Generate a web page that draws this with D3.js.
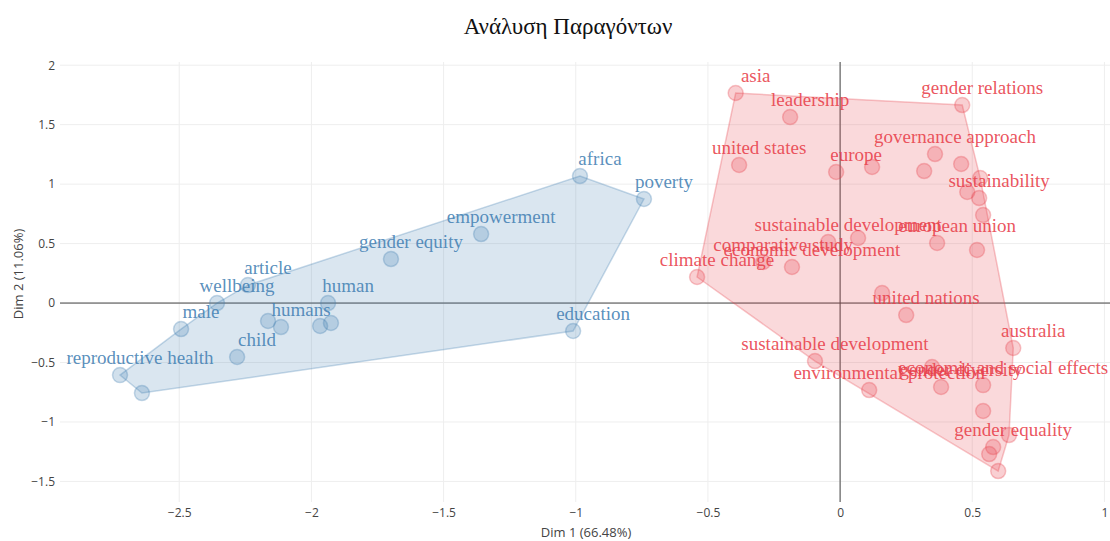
<!DOCTYPE html>
<html>
<head>
<meta charset="utf-8">
<script src="https://cdn.jsdelivr.net/npm/d3@7"></script>
<style>
    body { margin: 0; background: #fff; }
</style>
</head>
<body>
<div id="chart"></div>
<script>

// cluster 1 (blue)
const blueX = [-0.984, -0.742, -1.358, -1.699, -1.010, -2.240, -2.357, -1.937, -2.493, -2.115, -2.164, -1.967, -1.926, -2.281, -2.724, -2.641]
const blueY = [1.068, 0.875, 0.580, 0.370, -0.235, 0.151, 0.0, 0.0, -0.219, -0.202, -0.151, -0.193, -0.168, -0.454, -0.606, -0.757]
const blueLabels = ["africa", "poverty", "empowerment", "gender equity", "education", "article", "wellbeing", "human", "male", "humans", "", "", "", "child", "reproductive health", ""]

// cluster 2 (red)
const redX = [-0.395, -0.189, 0.462, -0.382, -0.015, 0.121, 0.359, 0.318, 0.458, 0.530, 0.481, 0.526, 0.541, -0.045, 0.068, 0.367, 0.518, -0.291, -0.182, -0.541, 0.159, 0.250, 0.655, -0.095, 0.348, 0.110, 0.382, 0.541, 0.541, 0.639, 0.579, 0.564, 0.598]
const redY = [1.766, 1.564, 1.665, 1.161, 1.102, 1.144, 1.253, 1.110, 1.169, 1.051, 0.934, 0.883, 0.740, 0.513, 0.547, 0.505, 0.446, 0.345, 0.303, 0.219, 0.084, -0.101, -0.378, -0.488, -0.538, -0.732, -0.706, -0.690, -0.908, -1.110, -1.211, -1.270, -1.413]
const redLabels = ["asia", "leadership", "gender relations", "united states", "europe", "", "governance approach", "", "", "", "", "sustainability", "",
    "sustainable development", "", "european union", "", "comparative study", "economic development", "climate change", "", "united nations",
    "australia", "sustainable development", "", "environmental protection", "gender diversity", "economic and social effects", "", "", "gender equality", "", ""]

const xTicks = [-2.5, -2, -1.5, -1, -0.5, 0, 0.5, 1]
const yTicks = [-1.5, -1, -0.5, 0, 0.5, 1, 1.5, 2]

const chartTitle = "Ανάλυση Παραγόντων"
const xTitle = "Dim 1 (66.48%)"
const yTitle = "Dim 2 (11.06%)"

const width = 1110
const height = 541
const MARGIN = {
    top: 62,
    right: 0,
    left: 60,
    bottom: 39,
}

const svg = d3.select("#chart")
    .append("svg")
    .attr("width", width)
    .attr("height", height)

const x = d3.scaleLinear()
    .domain([-2.951, 1.021])
    .range([MARGIN.left, width - MARGIN.right])

const y = d3.scaleLinear()
    .domain([-1.673, 2.027])
    .range([height - MARGIN.bottom, MARGIN.top])

// grid
svg.append("g")
    .selectAll("line")
    .data(xTicks)
    .enter()
    .append("line")
    .attr("x1", d => x(d)).attr("x2", d => x(d))
    .attr("y1", MARGIN.top).attr("y2", height - MARGIN.bottom)
    .attr("stroke", "#eee")

svg.append("g")
    .selectAll("line")
    .data(yTicks)
    .enter()
    .append("line")
    .attr("x1", MARGIN.left).attr("x2", width - MARGIN.right)
    .attr("y1", d => y(d)).attr("y2", d => y(d))
    .attr("stroke", "#eee")

// axes, only the labels are shown
const xAxis = svg.append("g")
    .attr("transform", `translate(0,${height - MARGIN.bottom + 5})`)
    .call(d3.axisBottom(x).tickValues(xTicks).tickSize(0).tickFormat(d => d3.format("")(d).replace("-", "\u2212")))
xAxis.select(".domain").remove()
xAxis.selectAll("text")
    .attr("dy", "0.71em")
    .attr("y", 1)
    .style("font-family", "'Open Sans', sans-serif")
    .style("font-size", "12px")
    .attr("fill", "#444")

const yAxis = svg.append("g")
    .attr("transform", `translate(${MARGIN.left - 2},0)`)
    .call(d3.axisLeft(y).tickValues(yTicks).tickSize(0).tickFormat(d => d3.format("")(d).replace("-", "\u2212")))
yAxis.select(".domain").remove()
yAxis.selectAll("text")
    .style("font-family", "'Open Sans', sans-serif")
    .style("font-size", "12px")
    .attr("fill", "#444")

// zero lines
svg.append("line")
    .attr("x1", MARGIN.left).attr("x2", width - MARGIN.right)
    .attr("y1", y(0)).attr("y2", y(0))
    .attr("stroke", "#444").attr("stroke-width", 1)
svg.append("line")
    .attr("x1", x(0)).attr("x2", x(0))
    .attr("y1", MARGIN.top).attr("y2", height - MARGIN.bottom)
    .attr("stroke", "#444").attr("stroke-width", 1)

function drawCluster(xs, ys, labels, color) {
    var pts = xs.map((d, i) => [x(d), y(ys[i])])
    var hull = d3.polygonHull(pts)

    svg.append("path")
        .attr("d", "M" + hull.join("L") + "Z")
        .attr("fill", color)
        .attr("fill-opacity", 0.2)
        .attr("stroke", color)
        .attr("stroke-opacity", 0.3)
        .attr("stroke-width", 1.5)

    svg.append("g")
        .selectAll("circle")
        .data(pts)
        .enter()
        .append("circle")
        .attr("cx", d => d[0])
        .attr("cy", d => d[1])
        .attr("r", 7.5)
        .attr("fill", color)
        .attr("fill-opacity", 0.25)
        .attr("stroke", color)
        .attr("stroke-opacity", 0.3)
        .attr("stroke-width", 1.5)

    svg.append("g")
        .selectAll("text")
        .data(pts.map((d, i) => ({ p: d, t: labels[i] })).filter(d => d.t != ""))
        .enter()
        .append("text")
        .attr("x", d => d.p[0] + 20)
        .attr("y", d => d.p[1] - 11)
        .attr("text-anchor", "middle")
        .style("font-family", "'Liberation Serif', 'Times New Roman', serif")
        .style("font-size", "19px")
        .attr("fill", color)
        .attr("fill-opacity", 0.9)
        .text(d => d.t)
}

drawCluster(blueX, blueY, blueLabels, "#4682b4")
drawCluster(redX, redY, redLabels, "#e8414c")

// titles
svg.append("text")
    .attr("x", 568)
    .attr("y", 34)
    .attr("text-anchor", "middle")
    .style("font-family", "'Liberation Serif', serif")
    .style("font-size", "23px")
    .attr("fill", "#111")
    .text(chartTitle)

svg.append("text")
    .attr("x", 586)
    .attr("y", 537)
    .attr("text-anchor", "middle")
    .style("font-family", "'Open Sans', sans-serif")
    .style("font-size", "13px")
    .attr("fill", "#444")
    .text(xTitle)

svg.append("text")
    .attr("transform", "translate(23,274) rotate(-90)")
    .attr("text-anchor", "middle")
    .style("font-family", "'Open Sans', sans-serif")
    .style("font-size", "13px")
    .attr("fill", "#444")
    .text(yTitle)

</script>
</body>
</html>
